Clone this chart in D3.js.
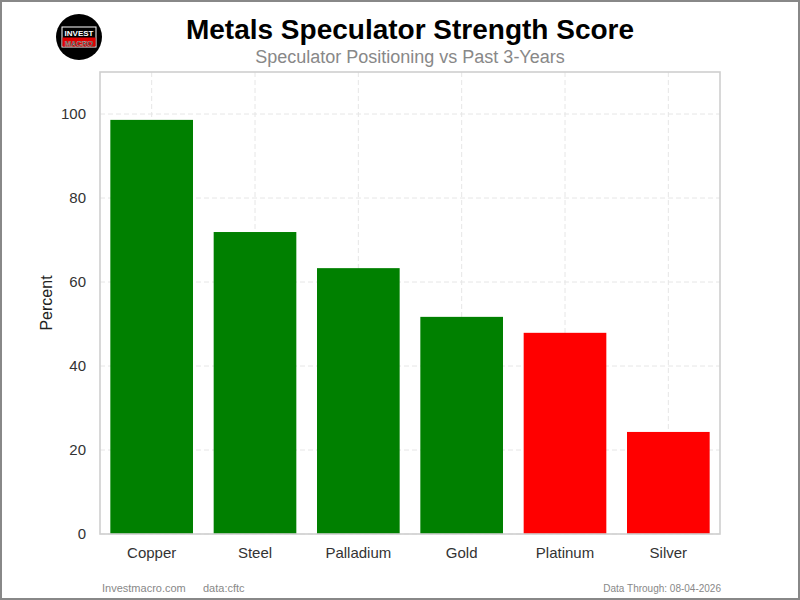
<!DOCTYPE html>
<html>
<head>
<meta charset="utf-8">
<script src="https://d3js.org/d3.v7.min.js"></script>
<style>
  body { margin: 0; }
  svg { font-family: "Liberation Sans", Arial, sans-serif; display: block; }
</style>
</head>
<body>
<div id="chart"></div>
<script>
// data
const metals = ["Copper", "Steel", "Palladium", "Gold", "Platinum", "Silver"];
const scores = [98.6, 71.9, 63.3, 51.7, 47.9, 24.3];
const barColors = ["#008000", "#008000", "#008000", "#008000", "#ff0000", "#ff0000"];
const yTicks = [0, 20, 40, 60, 80, 100];

const W = 800, H = 600;
const margin = {top: 72, right: 80, bottom: 66, left: 100};
const width = W - margin.left - margin.right,
      height = H - margin.top - margin.bottom;

const svg = d3.select("#chart").append("svg")
    .attr("width", W)
    .attr("height", H);

// outer border
svg.append("rect")
    .attr("x", 1).attr("y", 1)
    .attr("width", W - 2).attr("height", H - 2)
    .attr("fill", "#fff")
    .attr("stroke", "#888")
    .attr("stroke-width", 2);

const g = svg.append("g")
    .attr("transform", `translate(${margin.left},${margin.top})`);

const x = d3.scaleBand()
    .domain(metals)
    .range([0, width])
    .paddingInner(0.2)
    .paddingOuter(0.1);

const y = d3.scaleLinear()
    .domain([0, 110])
    .range([height, 0]);

// grid
g.append("g")
  .selectAll("line")
  .data(yTicks)
  .join("line")
    .attr("x1", 0).attr("x2", width)
    .attr("y1", d => y(d)).attr("y2", d => y(d))
    .attr("stroke", "#e6e6e6")
    .attr("stroke-dasharray", "5,3");

g.append("g")
  .selectAll("line")
  .data(metals)
  .join("line")
    .attr("x1", d => x(d) + x.bandwidth() / 2)
    .attr("x2", d => x(d) + x.bandwidth() / 2)
    .attr("y1", 0).attr("y2", height)
    .attr("stroke", "#e6e6e6")
    .attr("stroke-dasharray", "5,3");

// bars
g.selectAll(".bar")
  .data(metals)
  .join("rect")
    .attr("class", "bar")
    .attr("x", d => x(d))
    .attr("width", x.bandwidth())
    .attr("y", (d, i) => y(scores[i]))
    .attr("height", (d, i) => height - y(scores[i]))
    .attr("fill", (d, i) => barColors[i]);

// frame
g.append("rect")
    .attr("width", width).attr("height", height)
    .attr("fill", "none")
    .attr("stroke", "#cfcfcf")
    .attr("stroke-width", 1.6);

// y axis
const yAxis = g.append("g")
    .call(d3.axisLeft(y).tickValues(yTicks).tickSize(0).tickPadding(14));
yAxis.select(".domain").remove();
yAxis.selectAll("text")
    .attr("font-size", 15)
    .attr("fill", "#333")
    .style("font-family", "Liberation Sans, Arial, sans-serif");

// x axis
const xAxis = g.append("g")
    .attr("transform", `translate(0,${height})`)
    .call(d3.axisBottom(x).tickSize(0).tickPadding(13));
xAxis.select(".domain").remove();
xAxis.selectAll("text")
    .attr("font-size", 15)
    .attr("fill", "#333")
    .style("font-family", "Liberation Sans, Arial, sans-serif");

// axis label
svg.append("text")
    .attr("transform", `translate(52,${margin.top + height / 2}) rotate(-90)`)
    .attr("text-anchor", "middle")
    .attr("font-size", 16)
    .attr("fill", "#222")
    .text("Percent");

// titles
svg.append("text")
    .attr("x", margin.left + width / 2).attr("y", 39)
    .attr("text-anchor", "middle")
    .attr("font-size", 28)
    .attr("font-weight", "bold")
    .attr("fill", "#000")
    .text("Metals Speculator Strength Score");

svg.append("text")
    .attr("x", margin.left + width / 2).attr("y", 63)
    .attr("text-anchor", "middle")
    .attr("font-size", 18)
    .attr("fill", "#888")
    .text("Speculator Positioning vs Past 3-Years");

// footer
svg.append("text")
    .attr("x", 102).attr("y", 592)
    .attr("font-size", 11).attr("fill", "#888")
    .text("Investmacro.com");
svg.append("text")
    .attr("x", 203).attr("y", 592)
    .attr("font-size", 11).attr("fill", "#888")
    .text("data:cftc");
svg.append("text")
    .attr("x", 721).attr("y", 592)
    .attr("text-anchor", "end")
    .attr("font-size", 10).attr("fill", "#888")
    .text("Data Through: 08-04-2026");

// logo
const logo = svg.append("g").attr("transform", "translate(79,37)");
logo.append("circle").attr("r", 23).attr("fill", "#000");
logo.append("rect")
    .attr("x", -17).attr("y", -10).attr("width", 34).attr("height", 20)
    .attr("fill", "none").attr("stroke", "#fff").attr("stroke-width", 1);
logo.append("rect")
    .attr("x", -16.5).attr("y", 0.5).attr("width", 33).attr("height", 9)
    .attr("fill", "#e00000");
logo.append("text")
    .attr("y", -1.5).attr("text-anchor", "middle")
    .attr("font-size", 8).attr("font-weight", "bold").attr("fill", "#fff")
    .text("INVEST");
logo.append("text")
    .attr("y", 8.5).attr("text-anchor", "middle")
    .attr("font-size", 7.5).attr("font-weight", "bold").attr("fill", "#111")
    .attr("stroke", "#fff").attr("stroke-width", 0.25)
    .text("MACRO");
</script>
</body>
</html>
